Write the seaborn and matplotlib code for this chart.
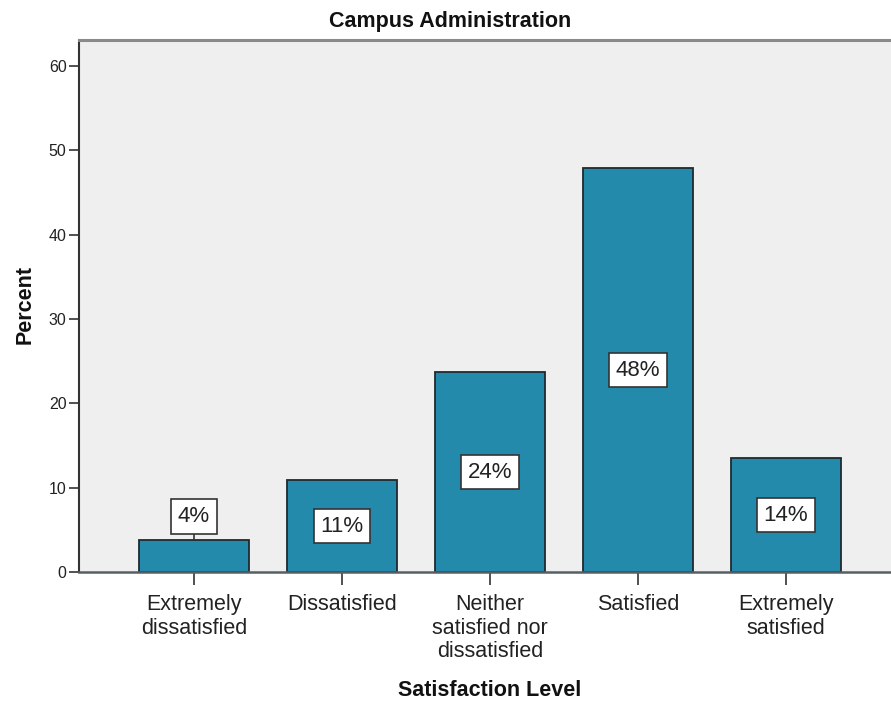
import matplotlib
matplotlib.use("Agg")
import matplotlib.pyplot as plt
import seaborn as sns
import pandas as pd

categories = ["Extremely\ndissatisfied", "Dissatisfied", "Neither\nsatisfied nor\ndissatisfied",
              "Satisfied", "Extremely\nsatisfied"]
percent = [3.8, 10.9, 23.7, 47.9, 13.5]
yticks = [0, 10, 20, 30, 40, 50, 60]

sns.set_style("white")
plt.rcParams['font.family'] = ['Liberation Sans', 'DejaVu Sans']

df = pd.DataFrame({"cat": categories, "pct": percent})

W, H = 891, 704
fig = plt.figure(figsize=(W / 100, H / 100), dpi=100)
ax = fig.add_axes([79 / W, (H - 572) / H, (W - 79) / W, 532 / H])

bar_color = "#238AAC"
sns.barplot(data=df, x="cat", y="pct", color=bar_color, saturation=1, width=0.743,
            edgecolor="#1e2a30", linewidth=1.3, ax=ax)

ax.set_facecolor("#EFEFEF")
ax.set_xlim((79 - 194) / 148, (W - 194) / 148)
ax.set_ylim(0, 532 / 8.433)
ax.set_yticks(yticks)
ax.set_yticklabels([str(t) for t in yticks], fontsize=11.5, color="#222222")
ax.tick_params(axis="y", direction="out", length=7, width=1.2, color="#333333", pad=2, left=True)
ax.tick_params(axis="x", direction="out", length=9, width=1.2, color="#333333", pad=7, bottom=True,
               labelsize=15.5, labelcolor="#222222")
for lbl in ax.get_xticklabels():
    lbl.set_linespacing(1.15)

ax.spines["right"].set_visible(False)
ax.spines["top"].set_color("#8a8a8a")
ax.spines["top"].set_linewidth(2.2)
ax.spines["left"].set_color("#333333")
ax.spines["left"].set_linewidth(1.5)
ax.spines["bottom"].set_color("#556066")
ax.spines["bottom"].set_linewidth(1.8)

ax.set_xlabel("")
ax.set_ylabel("")

# value labels
for i, v in enumerate(percent):
    txt = f"{round(v):d}%"
    if v < 5:
        ypos = v + 2.8
        ax.plot([i, i], [v, ypos - 1.5], color="#333333", lw=1.2, zorder=3)
    else:
        ypos = v / 2
    ax.text(i, ypos, txt, ha="center", va="center", fontsize=16, color="#222222", zorder=4,
            bbox=dict(boxstyle="square,pad=0.3", facecolor="white", edgecolor="#333333", linewidth=1.2))

fig.text(450 / W, 1 - 21 / H, "Campus Administration", ha="center", va="center",
         fontsize=15.5, fontweight="bold", color="#111111")
fig.text(25 / W, 1 - 305 / H, "Percent", ha="center", va="center", rotation=90,
         fontsize=15.5, fontweight="bold", color="#111111")
fig.text(490 / W, 1 - 690 / H, "Satisfaction Level", ha="center", va="center",
         fontsize=15.5, fontweight="bold", color="#111111")

fig.savefig("out.png", dpi=100)
